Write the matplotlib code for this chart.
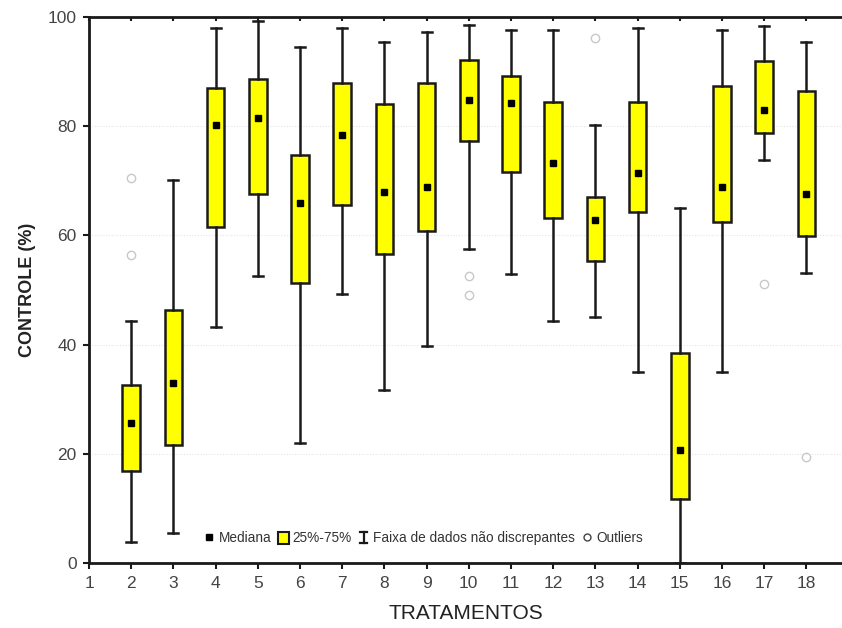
import matplotlib
matplotlib.use("Agg")
import matplotlib.pyplot as plt
from matplotlib.lines import Line2D
from matplotlib.patches import Patch
from matplotlib.legend_handler import HandlerBase

plt.rcParams['font.family'] = ['Liberation Sans', 'DejaVu Sans']

treatments = list(range(2, 19))
whisker_low  = [3.8, 5.5, 43.3, 52.5, 22.0, 49.2, 31.7, 39.8, 57.5, 52.9, 44.3, 45.1, 34.9, 0.0, 35.0, 73.9, 53.2]
q1           = [16.8, 21.6, 61.5, 67.5, 51.3, 65.6, 56.6, 60.8, 77.2, 71.6, 63.2, 55.4, 64.2, 11.7, 62.5, 78.7, 59.8]
median       = [25.6, 33.0, 80.2, 81.5, 66.0, 78.4, 68.0, 68.8, 84.8, 84.2, 73.3, 62.9, 71.5, 20.7, 68.8, 83.0, 67.5]
q3           = [32.6, 46.3, 87.0, 88.7, 74.8, 88.0, 84.0, 88.0, 92.1, 89.2, 84.4, 67.1, 84.4, 38.5, 87.4, 91.9, 86.4]
whisker_high = [44.3, 70.1, 98.0, 99.3, 94.5, 98.0, 95.5, 97.3, 98.5, 97.6, 97.6, 80.3, 98.0, 65.1, 97.6, 98.4, 95.5]
outliers = {2: [70.6, 56.5], 10: [52.6, 49.0], 13: [96.1], 17: [51.1], 18: [19.5]}

x_ticks = list(range(1, 19))
y_ticks = [0, 20, 40, 60, 80, 100]

fig = plt.figure(figsize=(8.42, 6.28), dpi=100)
ax = fig.add_axes([89/842, 1-563/628, 1-89/842, (563-17)/628])

stats = []
for i, t in enumerate(treatments):
    stats.append(dict(med=median[i], mean=median[i], q1=q1[i], q3=q3[i],
                      whislo=whisker_low[i], whishi=whisker_high[i],
                      fliers=outliers.get(t, [])))

ax.bxp(stats, positions=treatments, widths=0.42, patch_artist=True,
       showmeans=True, showfliers=True,
       boxprops=dict(facecolor='#ffff00', edgecolor='#1a1a1a', linewidth=1.8),
       whiskerprops=dict(color='#1a1a1a', linewidth=1.8),
       capprops=dict(color='#1a1a1a', linewidth=1.8),
       capwidths=0.24,
       medianprops=dict(visible=False),
       meanprops=dict(marker='s', markerfacecolor='black', markeredgecolor='black', markersize=5),
       flierprops=dict(marker='o', markerfacecolor='none', markeredgecolor='#c8c8c8',
                       markersize=6, markeredgewidth=1.0),
       zorder=3)

ax.set_xlim(1, 1 + (842-89)/42.2)
ax.set_ylim(0, 100)
ax.set_xticks(x_ticks)
ax.set_xticklabels([str(v) for v in x_ticks])
ax.set_yticks(y_ticks)
ax.set_yticklabels([str(v) for v in y_ticks])

for g in [20, 40, 60, 80]:
    ax.axhline(g, color='#e6e6e6', linestyle=(0, (1, 1.5)), linewidth=0.8, zorder=0)

for s in ['left', 'bottom', 'top']:
    ax.spines[s].set_linewidth(2)
    ax.spines[s].set_color('#1a1a1a')
ax.spines['right'].set_visible(False)

ax.tick_params(axis='x', direction='out', length=4, width=1.5, colors='#1a1a1a',
               labelcolor='#444444', labelsize=12.5, pad=5, top=True)
ax.tick_params(axis='y', direction='out', length=4, width=1.5, colors='#1a1a1a',
               labelcolor='#444444', labelsize=12.5, pad=5)
for tick in ax.xaxis.get_major_ticks():
    tick.tick2line.set_marker(matplotlib.markers.TICKDOWN)
    tick.tick2line.set_markersize(3)

ax.set_ylabel('CONTROLE (%)', fontsize=13, fontweight='bold', color='#222222', labelpad=8)
ax.set_xlabel('TRATAMENTOS', fontsize=15, color='#222222', labelpad=10)


class WhiskerHandler(HandlerBase):
    def create_artists(self, legend, orig_handle, xdescent, ydescent, width, height, fontsize, trans):
        cx = xdescent + width/2
        y0, y1 = -ydescent + 0.5, -ydescent + height - 0.5
        c = width * 0.3
        arts = [Line2D([cx, cx], [y0, y1], color='#1a1a1a', lw=1.6, transform=trans),
                Line2D([cx-c, cx+c], [y0, y0], color='#1a1a1a', lw=1.6, transform=trans),
                Line2D([cx-c, cx+c], [y1, y1], color='#1a1a1a', lw=1.6, transform=trans)]
        return arts

h_med = Line2D([], [], marker='s', color='black', linestyle='none', markersize=4.5)
h_box = Patch(facecolor='#ffff00', edgecolor='#1a1a1a', linewidth=1.5)
h_whisk = object()
h_out = Line2D([], [], marker='o', markerfacecolor='none', markeredgecolor='#444444',
               linestyle='none', markersize=5)
leg = ax.legend([h_med, h_box, h_whisk, h_out],
                ['Mediana', '25%-75%', 'Faixa de dados não discrepantes', 'Outliers'],
                handler_map={object: WhiskerHandler()},
                loc='lower left', bbox_to_anchor=(0.14, 0.015), ncol=4, frameon=False,
                fontsize=9.8, handlelength=0.8, handletextpad=0.3, columnspacing=0.45,
                handleheight=1.0, borderpad=0.2)
for t in leg.get_texts():
    t.set_color('#333333')

fig.savefig('out.png', dpi=100)
